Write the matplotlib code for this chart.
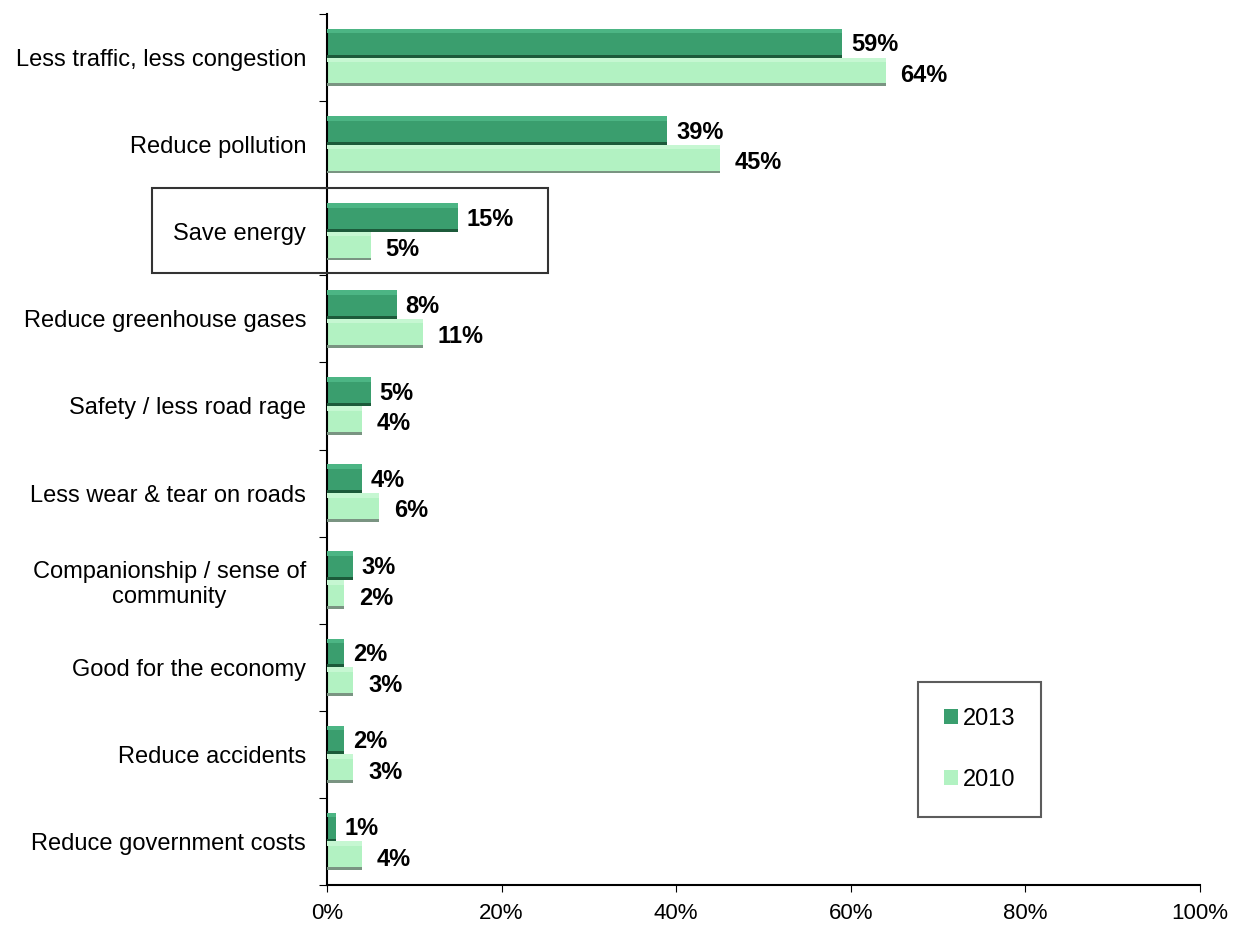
import matplotlib
matplotlib.use("Agg")
import matplotlib.pyplot as plt
from matplotlib.patches import Rectangle, Patch
import numpy as np

plt.rcParams['font.family'] = ['Liberation Sans', 'DejaVu Sans']

categories = ["Less traffic, less congestion", "Reduce pollution", "Save energy",
              "Reduce greenhouse gases", "Safety / less road rage",
              "Less wear & tear on roads", "Companionship / sense of\ncommunity",
              "Good for the economy", "Reduce accidents", "Reduce government costs"]
v2013 = [59, 39, 15, 8, 5, 4, 3, 2, 2, 1]
v2010 = [64, 45, 5, 11, 4, 6, 2, 3, 3, 4]
xticks = [0, 20, 40, 60, 80, 100]
xticklabels = ["0%", "20%", "40%", "60%", "80%", "100%"]

fig = plt.figure(figsize=(12.35, 9.25), dpi=100)
ax = fig.add_axes([327/1235, 1 - 885/925, (1200-327)/1235, (885-14)/925])

y = np.arange(len(categories))
h = 0.33
c13, c13_top, c13_bot = "#3a9e6e", "#4cb584", "#1c5a3a"
c10, c10_top, c10_bot = "#b2f2c2", "#c6f7d2", "#7a9482"

y13 = y - h/2
y10 = y + h/2
ax.barh(y13, v2013, height=h, color=c13, edgecolor='none', zorder=2)
ax.barh(y13 - h*0.42, v2013, height=h*0.16, color=c13_top, edgecolor='none', zorder=3)
ax.barh(y13 + h*0.45, v2013, height=h*0.1, color=c13_bot, edgecolor='none', zorder=3)
ax.barh(y10, v2010, height=h, color=c10, edgecolor='none', zorder=2)
ax.barh(y10 - h*0.42, v2010, height=h*0.16, color=c10_top, edgecolor='none', zorder=3)
ax.barh(y10 + h*0.45, v2010, height=h*0.1, color=c10_bot, edgecolor='none', zorder=3)

for yi, v in zip(y13, v2013):
    ax.text(v + 1.0, yi + 0.02, f"{v}%", va='center', ha='left', fontsize=17, fontweight='bold', zorder=4)
for yi, v in zip(y10, v2010):
    ax.text(v + 1.7, yi + 0.04, f"{v}%", va='center', ha='left', fontsize=17, fontweight='bold', zorder=4)

ax.set_xlim(0, 100)
ax.set_ylim(len(categories) - 0.5, -0.5)
ax.set_xticks(xticks)
ax.set_xticklabels(xticklabels, fontsize=16)
ax.set_yticks(y)
ax.set_yticklabels(categories, fontsize=17, ha='right')
ax.tick_params(axis='y', length=0, pad=15)
ax.set_yticks(np.arange(len(categories) + 1) - 0.5, minor=True)
ax.tick_params(axis='y', which='minor', length=6, width=0.8, direction='out')
ax.tick_params(axis='x', length=5, width=0.8, direction='out', pad=8)
for s in ['top', 'right']:
    ax.spines[s].set_visible(False)
ax.spines['left'].set_linewidth(1.5)
ax.spines['bottom'].set_linewidth(1.5)

for lbl in ax.get_yticklabels():
    lbl.set_multialignment('center')

# highlight box around "Save energy"
fig.patches.append(Rectangle((152/1235, 1 - 273/925), (548-152)/1235, (273-188)/925,
                             transform=fig.transFigure, fill=False, edgecolor='#333333', lw=1.5))

# legend
handles = [Patch(facecolor=c13, edgecolor='none'), Patch(facecolor=c10, edgecolor='none')]
leg = fig.legend(handles, ["2013", "2010"], loc='upper left',
                 bbox_to_anchor=(918/1235, 1 - 682/925), fontsize=17,
                 frameon=True, fancybox=False, edgecolor='#333333',
                 handlelength=0.6, handleheight=0.6, handletextpad=0.18,
                 labelspacing=1.65, borderpad=1.1, borderaxespad=0)
leg.get_frame().set_linewidth(1.5)

fig.savefig("out.png", dpi=100, facecolor='white')
